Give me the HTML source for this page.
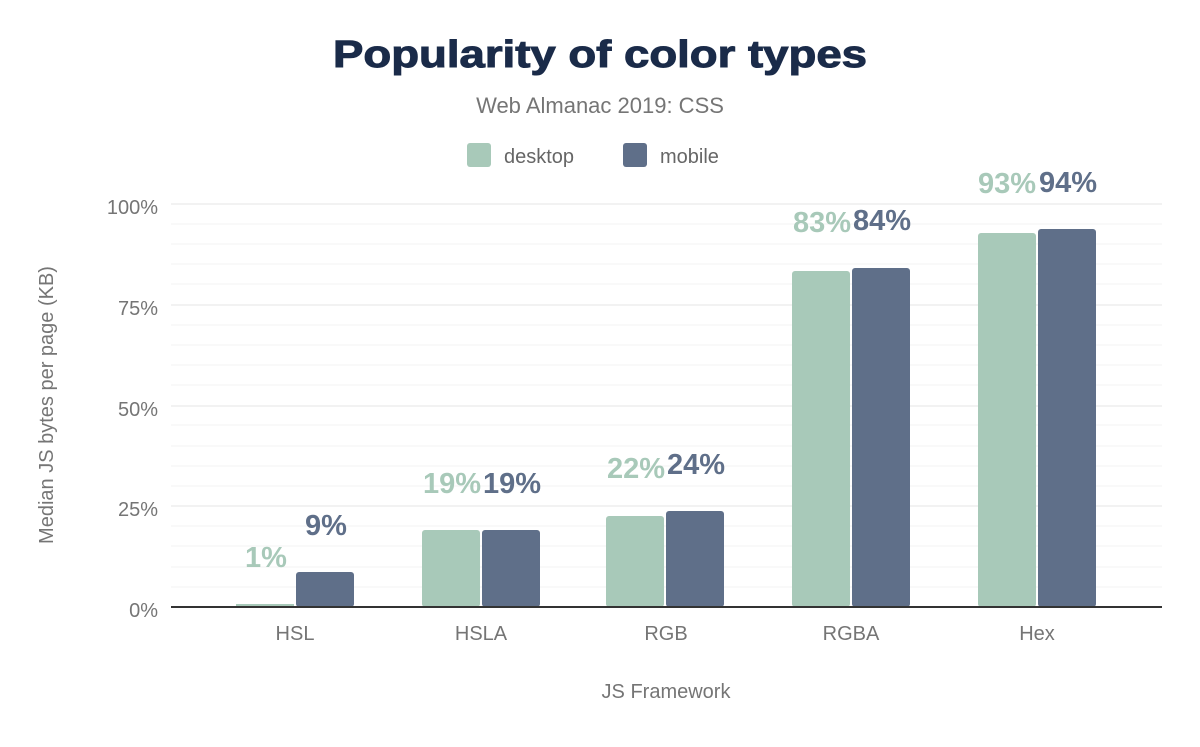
<!DOCTYPE html><html><head><style>body{margin:0;background:#fff}</style></head><body>
<svg width="1200" height="742" xmlns="http://www.w3.org/2000/svg" font-family="Liberation Sans, sans-serif">
<rect width="1200" height="742" fill="#fff"/>
<text x="333" y="67" font-size="38" font-weight="bold" fill="#1a2b49" textLength="534" lengthAdjust="spacingAndGlyphs" stroke="#1a2b49" stroke-width="1">Popularity of color types</text>
<text x="600" y="113" text-anchor="middle" font-size="22" fill="#757575">Web Almanac 2019: CSS</text>
<rect x="467" y="143" width="24" height="24" rx="3" fill="#a8c9b9"/>
<text x="504" y="163" font-size="20" fill="#666">desktop</text>
<rect x="623" y="143" width="24" height="24" rx="3" fill="#5f6f89"/>
<text x="660" y="163" font-size="20" fill="#666">mobile</text>
<g stroke="#f3f3f3" stroke-width="1">
<line x1="171" x2="1162" y1="587" y2="587"/><line x1="171" x2="1162" y1="567" y2="567"/><line x1="171" x2="1162" y1="546" y2="546"/><line x1="171" x2="1162" y1="526" y2="526"/>
<line x1="171" x2="1162" y1="486" y2="486"/><line x1="171" x2="1162" y1="466" y2="466"/><line x1="171" x2="1162" y1="446" y2="446"/><line x1="171" x2="1162" y1="425" y2="425"/>
<line x1="171" x2="1162" y1="385" y2="385"/><line x1="171" x2="1162" y1="365" y2="365"/><line x1="171" x2="1162" y1="345" y2="345"/><line x1="171" x2="1162" y1="325" y2="325"/>
<line x1="171" x2="1162" y1="284" y2="284"/><line x1="171" x2="1162" y1="264" y2="264"/><line x1="171" x2="1162" y1="244" y2="244"/><line x1="171" x2="1162" y1="224" y2="224"/>
</g>
<g stroke="#e6e6e6" stroke-width="1">
<line x1="171" x2="1162" y1="204" y2="204"/><line x1="171" x2="1162" y1="305" y2="305"/><line x1="171" x2="1162" y1="406" y2="406"/><line x1="171" x2="1162" y1="506" y2="506"/>
</g>
<g font-size="20" fill="#757575" text-anchor="end">
<text x="158" y="214">100%</text><text x="158" y="315">75%</text><text x="158" y="416">50%</text><text x="158" y="516">25%</text><text x="158" y="617">0%</text>
</g>
<g fill="#a8c9b9">
<rect x="236" y="604" width="58" height="3"/>
<rect x="422" y="530" width="58" height="77" rx="3"/>
<rect x="606" y="516" width="58" height="91" rx="3"/>
<rect x="792" y="271" width="58" height="336" rx="3"/>
<rect x="978" y="233" width="58" height="374" rx="3"/>
</g>
<g fill="#5f6f89">
<rect x="296" y="572" width="58" height="35" rx="3"/>
<rect x="482" y="530" width="58" height="77" rx="3"/>
<rect x="666" y="511" width="58" height="96" rx="3"/>
<rect x="852" y="268" width="58" height="339" rx="3"/>
<rect x="1038" y="229" width="58" height="378" rx="3"/>
</g>
<line x1="171" x2="1162" y1="607" y2="607" stroke="#333" stroke-width="2"/>
<g font-size="29" font-weight="bold" text-anchor="middle">
<g fill="#a8c9b9"><text x="266" y="567">1%</text><text x="452" y="493">19%</text><text x="636" y="478">22%</text><text x="822" y="232">83%</text><text x="1007" y="193">93%</text></g>
<g fill="#5f6f89"><text x="326" y="535">9%</text><text x="512" y="493">19%</text><text x="696" y="474">24%</text><text x="882" y="230">84%</text><text x="1068" y="192">94%</text></g>
</g>
<g font-size="20" fill="#757575" text-anchor="middle">
<text x="295" y="640">HSL</text><text x="481" y="640">HSLA</text><text x="666" y="640">RGB</text><text x="851" y="640">RGBA</text><text x="1037" y="640">Hex</text>
<text x="666" y="698">JS Framework</text>
<text transform="translate(53,405) rotate(-90)">Median JS bytes per page (KB)</text>
</g>
</svg>
</body></html>
